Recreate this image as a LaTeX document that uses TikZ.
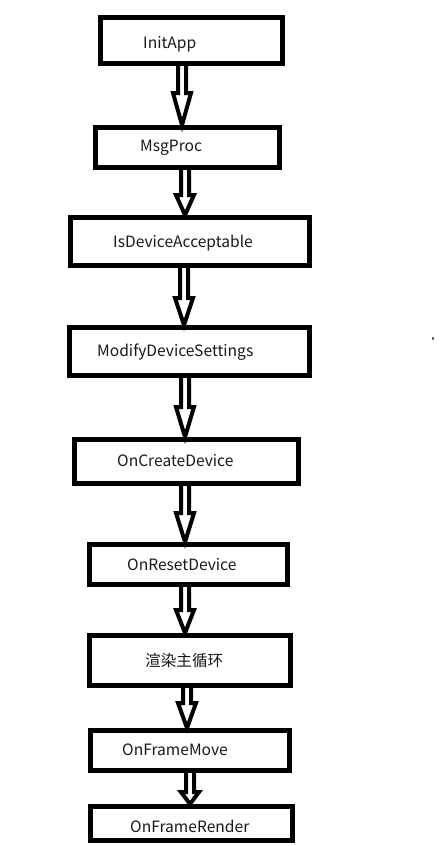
\documentclass[tikz,border=0pt]{standalone}
\usepackage{fontspec}
\setmainfont{Noto Sans CJK SC}
\begin{document}
\begin{tikzpicture}[x=1pt,y=-1pt,
  box/.style={draw=black,line width=5pt,fill=white,inner sep=0pt,rectangle},
  lbl/.style={anchor=west,inner sep=0pt,font=\fontsize{15.6}{17}\selectfont,text=black!90},
  hollow/.style={draw=black,fill=white,line width=4pt,miter limit=20}]
\useasboundingbox (0,0) rectangle (441,846);
\newcommand{\barrow}[4]{% x, ystart, yhead, ytip
  \fill[white] (#1-4,#2) -- (#1-4,#3) -- (#1-9,#3) -- (#1,#4) -- (#1+9,#3) -- (#1+4,#3) -- (#1+4,#2) -- cycle;
  \draw[hollow,fill=none] (#1-4,#2) -- (#1-4,#3) -- (#1-9,#3) -- (#1,#4) -- (#1+9,#3) -- (#1+4,#3) -- (#1+4,#2);}
\node[box,minimum width=182,minimum height=46] (b1) at (191.5,40.5) {};
\node[box,minimum width=184,minimum height=40] (b2) at (187.5,147.5) {};
\node[box,minimum width=239,minimum height=48] (b3) at (190,241.5) {};
\node[box,minimum width=240,minimum height=48] (b4) at (189.5,351.5) {};
\node[box,minimum width=224,minimum height=44] (b5) at (186.5,461.5) {};
\node[box,minimum width=198,minimum height=40] (b6) at (188.5,564.5) {};
\node[box,minimum width=201,minimum height=50] (b7) at (190,660.5) {};
\node[box,minimum width=199,minimum height=40] (b8) at (190,750.5) {};
\node[box,minimum width=202,minimum height=34] (b9) at (191.5,823.5) {};
\node[lbl] (t1) at (143,44) {InitApp};
\node[lbl] (t2) at (140,148) {MsgProc};
\node[lbl] (t3) at (113,243) {IsDeviceAcceptable};
\node[lbl] (t4) at (97,352) {ModifyDeviceSettings};
\node[lbl] (t5) at (117,461) {OnCreateDevice};
\node[lbl] (t6) at (127,565) {OnResetDevice};
\node[lbl] (t7) at (145,661) {渲染主循环};
\node[lbl] (t8) at (122,750) {OnFrameMove};
\node[lbl] (t9) at (130,826) {OnFrameRender};
\barrow{182}{66}{93}{125}
\barrow{185}{170}{195}{215}
\barrow{184}{268}{298}{325}
\barrow{185}{378}{407}{437}
\barrow{185}{486}{513}{542}
\barrow{185}{587}{610}{633}
\barrow{187}{688}{703}{728}
\barrow{190}{773}{792}{804}
\fill[black!60] (431.5,337) rectangle (433.5,339.5);
\end{tikzpicture}
\end{document}
